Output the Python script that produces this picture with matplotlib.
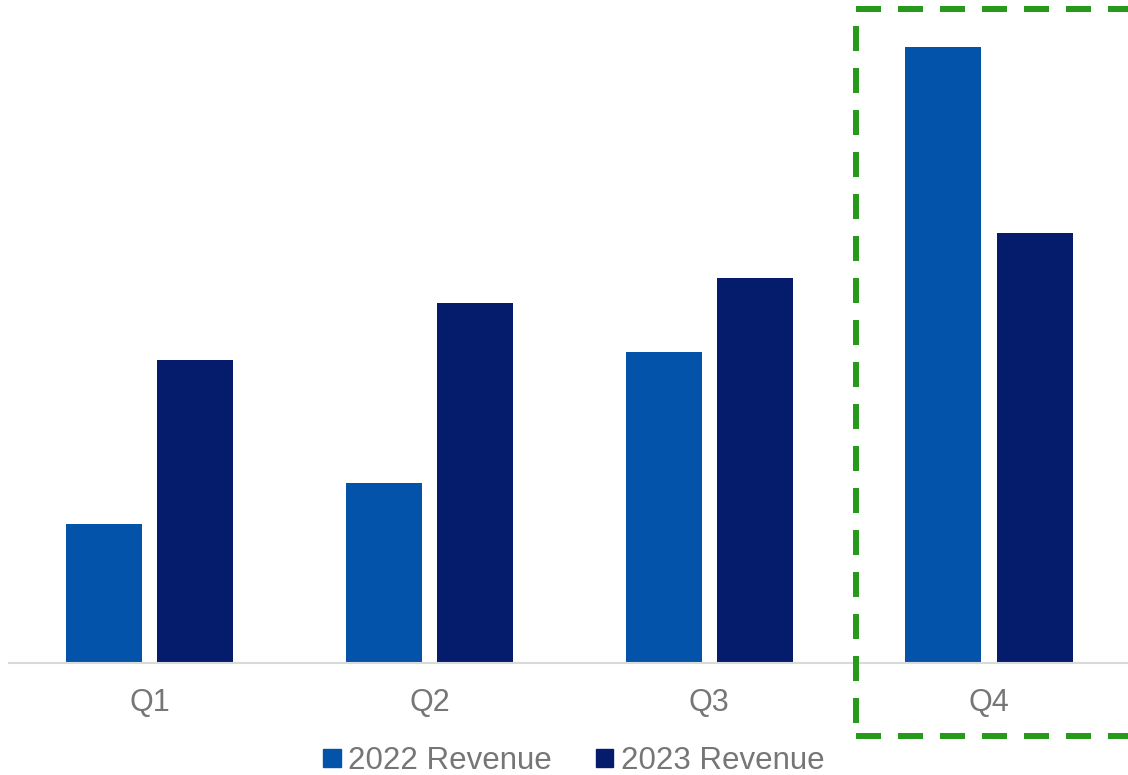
import matplotlib
matplotlib.use("Agg")
import matplotlib.pyplot as plt
from matplotlib.lines import Line2D
from matplotlib.patches import Patch
import numpy as np

plt.rcParams['font.family'] = ['Liberation Sans', 'DejaVu Sans']

# quarterly revenue (relative units)
quarters = ['Q1', 'Q2', 'Q3', 'Q4']
rev_2022 = [139, 180, 311, 616]
rev_2023 = [303, 360, 385, 430]

c2022 = '#0353ab'
c2023 = '#051c6d'
grey_txt = '#767676'
green = '#279a1c'

W, H = 1128, 775
fig = plt.figure(figsize=(W / 100, H / 100), dpi=100)
ax = fig.add_axes([9 / W, 112 / H, 1119 / W, 655 / H])

x = np.arange(len(quarters))
bw = 0.272
off = 0.163
ax.bar(x - off, rev_2022, bw, color=c2022, label='2022 Revenue')
ax.bar(x + off, rev_2023, bw, color=c2023, label='2023 Revenue')

ax.set_xlim(-0.503, 3.497)
ax.set_ylim(0, 655)
ax.set_xticks(x)
ax.set_xticklabels(quarters, fontsize=22, color=grey_txt)
ax.tick_params(axis='x', length=0, pad=18)
ax.set_yticks([])
for s in ['left', 'right', 'top']:
    ax.spines[s].set_visible(False)
ax.spines['bottom'].set_color('#d9d9d9')
ax.spines['bottom'].set_linewidth(1.5)


# dashed highlight around Q4 (pixel coords -> figure fraction)
def px(xp, yp):
    return xp / W, 1 - yp / H


dash_kw = dict(color=green, lw=4.32, dashes=(25 / 6, 17 / 6),
               solid_capstyle='butt', dash_capstyle='butt',
               transform=fig.transFigure)
for (x0, y0), (x1, y1) in [((856, 9), (1140, 9)),
                           ((856, 736), (1140, 736)),
                           ((856, 26), (856, 736))]:
    (fx0, fy0), (fx1, fy1) = px(x0, y0), px(x1, y1)
    fig.add_artist(Line2D([fx0, fx1], [fy0, fy1], **dash_kw))

handles = [Patch(color=c2022), Patch(color=c2023)]
leg = fig.legend(handles, ['2022 Revenue', '2023 Revenue'], loc='center',
                 bbox_to_anchor=(574 / W, 1 - 761 / H), ncol=2, frameon=False,
                 fontsize=22.5, handlelength=0.55, handleheight=0.55,
                 handletextpad=0.25, columnspacing=1.4, borderpad=0)
for t in leg.get_texts():
    t.set_color(grey_txt)

fig.savefig('out.png', dpi=100)
